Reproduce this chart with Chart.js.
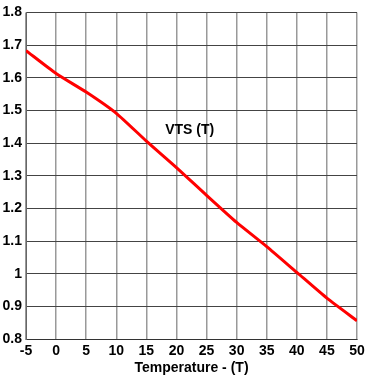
<!DOCTYPE html>
<html>
<head>
<meta charset="utf-8">
<script src="https://cdn.jsdelivr.net/npm/chart.js@4"></script>
<style>
  html, body { margin: 0; padding: 0; background: #fff; }
  #wrap { width: 374px; height: 377px; }
</style>
</head>
<body>
<div id="wrap"><canvas id="chart" width="374" height="377"></canvas></div>
<script>
"use strict";

// Temperature (T) on the x axis, VTS on the y axis.
const temps = [-5, 0, 5, 10, 15, 20, 25, 30, 35, 40, 45, 50];
const vts = [1.683, 1.613, 1.556, 1.491, 1.406, 1.325, 1.24, 1.157, 1.083, 1.004, 0.925, 0.856];
const xTicks = [-5, 0, 5, 10, 15, 20, 25, 30, 35, 40, 45, 50];
const yTicks = [0.8, 0.9, 1, 1.1, 1.2, 1.3, 1.4, 1.5, 1.6, 1.7, 1.8];
const seriesLabel = "VTS (T)";
const labelAt = { x: 22.2, y: 1.438 };

const FONT = { family: "'Liberation Sans', Arial, sans-serif", size: 14, weight: "bold" };

// Writes the series name inside the plot, placed by data coordinates.
const seriesNote = {
  id: "seriesNote",
  afterDatasetsDraw(chart) {
    const { ctx, scales } = chart;
    ctx.save();
    ctx.font = `bold 14px ${FONT.family}`;
    ctx.fillStyle = "#000";
    ctx.textAlign = "center";
    ctx.textBaseline = "middle";
    ctx.fillText(seriesLabel, scales.x.getPixelForValue(labelAt.x), scales.y.getPixelForValue(labelAt.y));
    ctx.restore();
  },
};

new Chart(document.getElementById("chart"), {
  type: "line",
  data: {
    datasets: [{
      data: temps.map((t, i) => ({ x: t, y: vts[i] })),
      borderColor: "#ff0000",
      borderWidth: 3,
      pointRadius: 0,
      tension: 0.2,
    }],
  },
  options: {
    responsive: false,
    animation: false,
    layout: { padding: { top: 7, right: 17, left: 0, bottom: 0 } },
    plugins: { legend: { display: false }, tooltip: { enabled: false } },
    scales: {
      x: {
        type: "linear",
        min: -5,
        max: 50,
        afterBuildTicks: (axis) => { axis.ticks = xTicks.map((v) => ({ value: v })); },
        afterFit: (axis) => { axis.height = 38; },
        ticks: { color: "#000", font: FONT, padding: 4, maxRotation: 0, autoSkip: false, callback: (v) => String(v) },
        grid: { color: "#999", lineWidth: 1.5, tickLength: 0 },
        border: { color: "#333", width: 1 },
        title: { display: true, text: "Temperature - (T)", color: "#000", font: FONT, padding: { top: 0, bottom: 0 } },
      },
      y: {
        type: "linear",
        min: 0.8,
        max: 1.8,
        afterBuildTicks: (axis) => { axis.ticks = yTicks.map((v) => ({ value: v })); },
        afterFit: (axis) => { axis.width = 26; },
        ticks: { color: "#000", font: FONT, padding: 4, autoSkip: false, callback: (v) => String(v) },
        grid: { color: "#444", lineWidth: 1, tickLength: 0 },
        border: { color: "#666", width: 1 },
      },
    },
  },
  plugins: [seriesNote],
});
</script>
</body>
</html>
